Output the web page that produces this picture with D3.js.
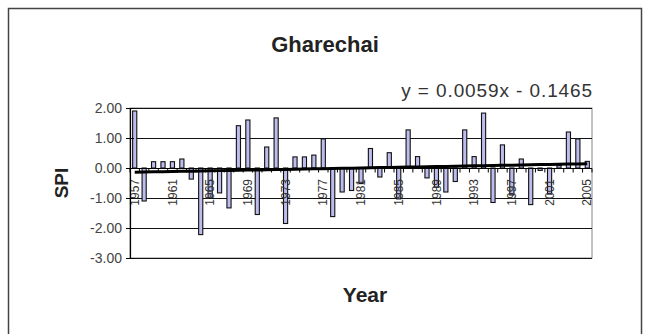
<!DOCTYPE html>
<html>
<head>
<meta charset="utf-8">
<script src="https://cdn.jsdelivr.net/npm/d3@7"></script>
<style>
  html, body { margin: 0; padding: 0; background: #fff; }
  svg { display: block; font-family: "Liberation Sans", Arial, sans-serif; }
</style>
</head>
<body>
<svg id="chart" width="650" height="334"></svg>
<script>
// Annual SPI, Gharechai station, 1957-2005
const years = d3.range(1957, 2006);
const spi = [
  1.90, -1.10, 0.21, 0.21, 0.21, 0.30, -0.37, -2.22, -1.00, -0.83,
  -1.33, 1.41, 1.60, -1.55, 0.70, 1.67, -1.85, 0.37, 0.37, 0.43,
  0.97, -1.62, -0.80, -0.75, -0.52, 0.65, -0.30, 0.51, -1.03, 1.27,
  0.38, -0.33, -0.64, -0.80, -0.45, 1.27, 0.38, 1.83, -1.15, 0.77,
  -0.90, 0.30, -1.22, -0.08, -0.87, 0.08, 1.20, 0.97, 0.22
];
const yTicks = [2, 1, 0, -1, -2, -3];
const labelYears = [1957, 1961, 1965, 1969, 1973, 1977, 1981, 1985, 1989, 1993, 1997, 2001, 2005];

// Linear trend fitted over the series index (1..n)
const trendSlope = 0.0059;
const trendIntercept = -0.1465;

const svg = d3.select("#chart");

// chart frame
svg.append("rect")
  .attr("x", 8.5).attr("y", 8.5).attr("width", 633).attr("height", 345)
  .attr("fill", "#fff").attr("stroke", "#444").attr("stroke-width", 1.5);

const plot = { left: 130, right: 592, top: 108, bottom: 258 };

const x = d3.scaleBand().domain(years).range([plot.left, plot.right]).paddingInner(0.56).paddingOuter(0.28);
const y = d3.scaleLinear().domain([-3, 2]).range([plot.bottom, plot.top]);

// plot area
svg.append("rect")
  .attr("x", plot.left).attr("y", plot.top)
  .attr("width", plot.right - plot.left).attr("height", plot.bottom - plot.top)
  .attr("fill", "#fff").attr("stroke", "#888").attr("stroke-width", 1);

// gridlines
svg.append("g").selectAll("line").data(yTicks).join("line")
  .attr("x1", plot.left).attr("x2", plot.right)
  .attr("y1", d => Math.round(y(d)) + 0.5).attr("y2", d => Math.round(y(d)) + 0.5)
  .attr("stroke", "#111").attr("stroke-width", 1);

// bars
svg.append("g").selectAll("rect").data(years).join("rect")
  .attr("x", d => x(d))
  .attr("width", x.bandwidth())
  .attr("y", (d, i) => y(Math.max(0, spi[i])))
  .attr("height", (d, i) => Math.abs(y(spi[i]) - y(0)))
  .attr("fill", "#bcbcee").attr("stroke", "#111").attr("stroke-width", 1.1);

// category axis along zero, with tick marks between categories
const zeroY = Math.round(y(0)) + 0.5;
svg.append("line")
  .attr("x1", plot.left).attr("x2", plot.right)
  .attr("y1", zeroY).attr("y2", zeroY)
  .attr("stroke", "#000").attr("stroke-width", 1.2);
svg.append("g").selectAll("line").data(d3.range(years.length + 1)).join("line")
  .attr("x1", i => plot.left + i * (plot.right - plot.left) / years.length)
  .attr("x2", i => plot.left + i * (plot.right - plot.left) / years.length)
  .attr("y1", zeroY).attr("y2", zeroY + 4)
  .attr("stroke", "#000").attr("stroke-width", 1);

// category labels, rotated
svg.append("g").selectAll("text").data(labelYears).join("text")
  .attr("transform", d => `translate(${x(d) + x.bandwidth() / 2},179) rotate(-90)`)
  .attr("text-anchor", "end")
  .attr("dy", "0.35em")
  .attr("font-size", 12)
  .attr("fill", "#333")
  .text(d => d);

// value axis
const yAxis = d3.axisLeft(y).tickValues(yTicks).tickFormat(d3.format(".2f")).tickSize(0).tickPadding(8);
const gy = svg.append("g").attr("transform", `translate(${plot.left},0)`).call(yAxis);
gy.select(".domain").remove();
gy.selectAll("text").attr("font-size", 14).attr("fill", "#444")
  .attr("font-family", "'Liberation Sans', Arial, sans-serif")
  .text(d => d3.format(".2f")(d).replace("−", "-"));
svg.append("line")
  .attr("x1", plot.left + 0.5).attr("x2", plot.left + 0.5)
  .attr("y1", plot.top).attr("y2", plot.bottom)
  .attr("stroke", "#000").attr("stroke-width", 1.2);
svg.append("g").selectAll("line").data(yTicks).join("line")
  .attr("x1", plot.left - 4).attr("x2", plot.left + 4)
  .attr("y1", d => Math.round(y(d)) + 0.5).attr("y2", d => Math.round(y(d)) + 0.5)
  .attr("stroke", "#000").attr("stroke-width", 1);

// trend line
const trend = years.map((yr, i) => [x(yr) + x.bandwidth() / 2, y(trendSlope * (i + 1) + trendIntercept)]);
svg.append("path")
  .attr("d", d3.line()(trend))
  .attr("fill", "none").attr("stroke", "#000").attr("stroke-width", 3);

// titles
svg.append("text")
  .attr("x", 325).attr("y", 52).attr("text-anchor", "middle")
  .attr("font-size", 22).attr("font-weight", "bold").attr("fill", "#222")
  .text("Gharechai");

svg.append("text")
  .attr("x", 593).attr("y", 97).attr("text-anchor", "end")
  .attr("font-size", 19).attr("letter-spacing", 0.9).attr("fill", "#333")
  .text(`y = ${trendSlope.toFixed(4)}x - ${Math.abs(trendIntercept).toFixed(4)}`);

svg.append("text")
  .attr("transform", "translate(68,183) rotate(-90)")
  .attr("text-anchor", "middle")
  .attr("font-size", 19).attr("font-weight", "bold").attr("fill", "#222")
  .text("SPI");

svg.append("text")
  .attr("x", 365).attr("y", 302).attr("text-anchor", "middle")
  .attr("font-size", 21).attr("font-weight", "bold").attr("fill", "#222")
  .text("Year");
</script>
</body>
</html>
